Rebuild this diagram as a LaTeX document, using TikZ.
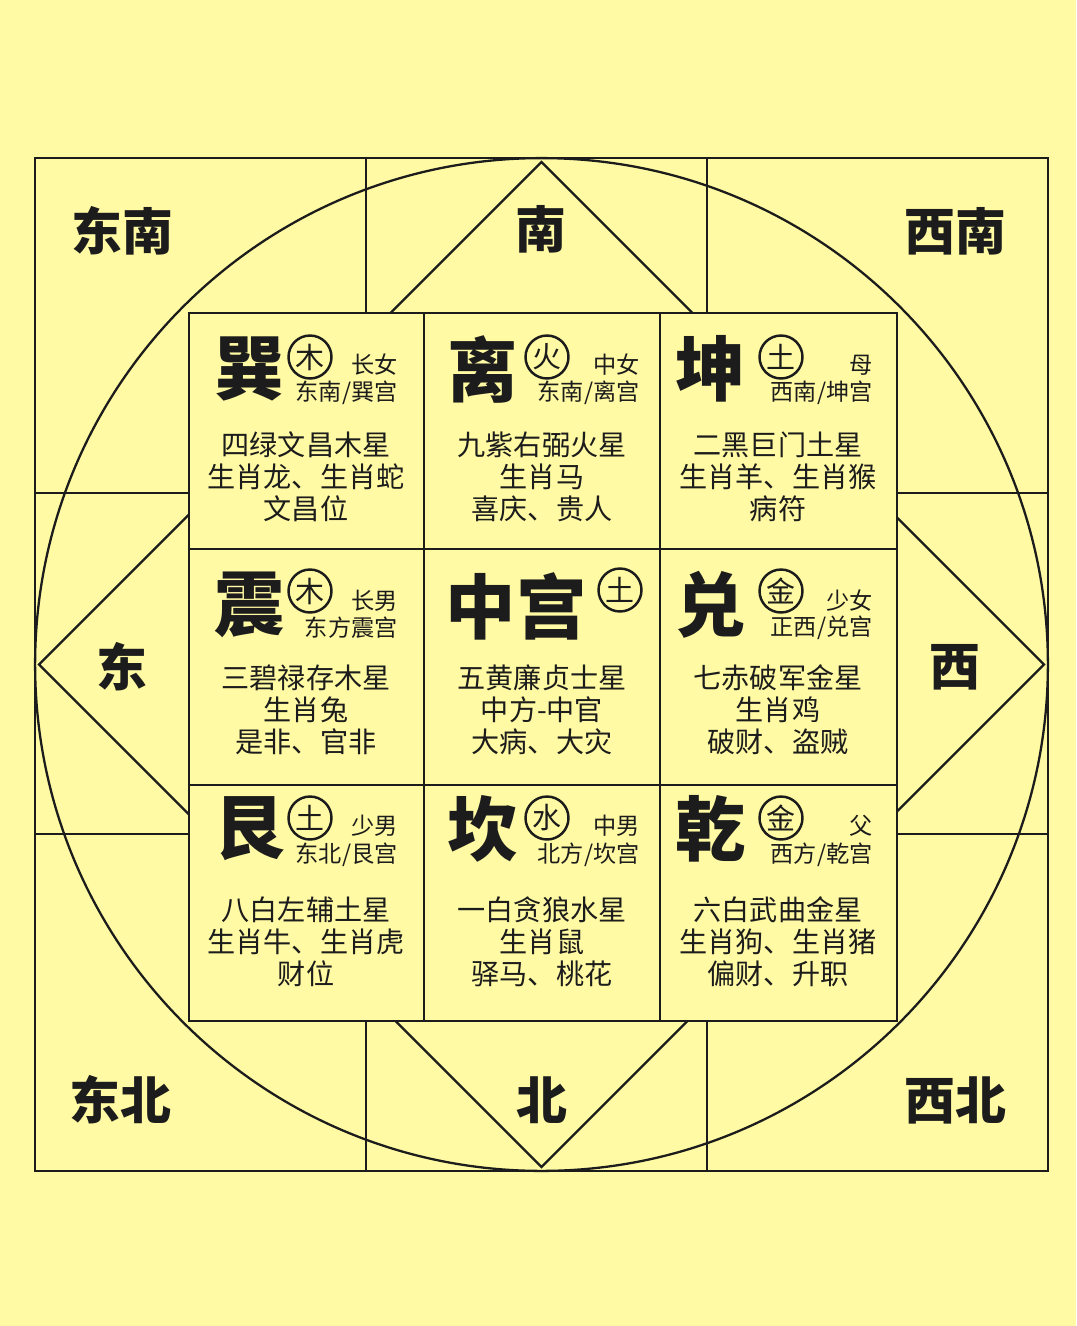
\documentclass[tikz,border=0pt]{standalone}
\usepackage{fontspec}
\usepackage{xcolor}
\usepackage{tikz}
\newfontfamily\cjk{Noto Sans CJK SC}
\definecolor{paper}{RGB}{255,250,163}
\definecolor{ink}{RGB}{28,28,28}

\begin{document}
\begin{tikzpicture}[
    x=0.02cm, y=-0.02cm,
    line/.style={draw=ink, line width=1.3pt},
    fangwei/.style={font=\cjk\bfseries\fontsize{29}{29}\selectfont, text=ink, inner sep=0pt},
    gua/.style={font=\cjk\bfseries\fontsize{40}{40}\selectfont, text=ink, inner sep=0pt},
    wuxing/.style={circle, draw=ink, line width=1.4pt, minimum size=0.86cm, inner sep=0pt, text=ink, font=\cjk\fontsize{16.5}{16.5}\selectfont},
    renwu/.style={anchor=east, inner sep=0pt, text=ink, font=\cjk\fontsize{13.2}{13.2}\selectfont},
    xingxiu/.style={align=center, inner sep=0pt, text=ink, font=\cjk\fontsize{16}{18.2}\selectfont}
]
    % Paper
    \fill[paper] (0,0) rectangle (1076,1326);
    \useasboundingbox (0,0) rectangle (1076,1326);

    % Outer frame, circle and diamond
    \coordinate (centre) at (541.5,664.5);
    \draw[line, line width=1.6pt] (35,158) rectangle (1048,1171);
    \draw[line] (366,158) -- (366,1171);
    \draw[line] (707,158) -- (707,1171);
    \draw[line] (35,493) -- (1048,493);
    \draw[line] (35,834) -- (1048,834);
    \draw[line] (centre) circle[radius=10.13cm];
    \coordinate (top) at (541.5,162);
    \coordinate (right) at (1044,664.5);
    \coordinate (bottom) at (541.5,1167);
    \coordinate (left) at (39,664.5);
    \draw[line] (top) -- (right) -- (bottom) -- (left) -- cycle;

    % Nine palaces
    \fill[paper] (189,313) rectangle (897,1021);
    \draw[line, line width=1.6pt] (189,313) rectangle (897,1021);
    \draw[line, line width=1.6pt] (424,313) -- (424,1021);
    \draw[line, line width=1.6pt] (660,313) -- (660,1021);
    \draw[line, line width=1.6pt] (189,549) -- (897,549);
    \draw[line, line width=1.6pt] (189,785) -- (897,785);

    % Directions
    \node[fangwei] (dongnan) at (122,231) {东南};
    \node[fangwei] (nan) at (541,229) {南};
    \node[fangwei] (xinan) at (955,231) {西南};
    \node[fangwei] (dong) at (122,667) {东};
    \node[fangwei] (xi) at (955,667) {西};
    \node[fangwei] (dongbei) at (120,1100) {东北};
    \node[fangwei] (bei) at (542,1100) {北};
    \node[fangwei] (xibei) at (955,1100) {西北};

    % Top row
    \node[gua] (xun) at (250,369) {巽};
    \node[wuxing] (xun-wx) at (310,357) {木};
    \node[renwu] (xun-ren) at (398,365) {长女};
    \node[renwu] (xun-gong) at (398,393) {东南/巽宫};
    \node[xingxiu] (xun-xing) at (306,477) {四绿文昌木星\\生肖龙、生肖蛇\\文昌位};

    \node[gua] (li) at (483,369) {离};
    \node[wuxing] (li-wx) at (547,357) {火};
    \node[renwu] (li-ren) at (640,365) {中女};
    \node[renwu] (li-gong) at (640,393) {东南/离宫};
    \node[xingxiu] (li-xing) at (542,477) {九紫右弼火星\\生肖马\\喜庆、贵人};

    \node[gua] (kun) at (711,369) {坤};
    \node[wuxing] (kun-wx) at (781,357) {土};
    \node[renwu] (kun-ren) at (873,365) {母};
    \node[renwu] (kun-gong) at (873,393) {西南/坤宫};
    \node[xingxiu] (kun-xing) at (778,477) {二黑巨门土星\\生肖羊、生肖猴\\病符};

    % Middle row
    \node[gua] (zhen) at (250,605) {震};
    \node[wuxing] (zhen-wx) at (310,591) {木};
    \node[renwu] (zhen-ren) at (398,601) {长男};
    \node[renwu] (zhen-gong) at (398,628) {东方震宫};
    \node[xingxiu] (zhen-xing) at (306,710) {三碧禄存木星\\生肖兔\\是非、官非};

    \node[gua] (zhong) at (516,606) {中宫};
    \node[wuxing] (zhong-wx) at (620,590) {土};
    \node[xingxiu] (zhong-xing) at (542,710) {五黄廉贞士星\\中方-中官\\大病、大灾};

    \node[gua] (dui) at (711,605) {兑};
    \node[wuxing] (dui-wx) at (781,591) {金};
    \node[renwu] (dui-ren) at (873,601) {少女};
    \node[renwu] (dui-gong) at (873,628) {正西/兑宫};
    \node[xingxiu] (dui-xing) at (778,710) {七赤破军金星\\生肖鸡\\破财、盗贼};

    % Bottom row
    \node[gua] (gen) at (250,829) {艮};
    \node[wuxing] (gen-wx) at (310,818) {土};
    \node[renwu] (gen-ren) at (398,826) {少男};
    \node[renwu] (gen-gong) at (398,855) {东北/艮宫};
    \node[xingxiu] (gen-xing) at (306,942) {八白左辅土星\\生肖牛、生肖虎\\财位};

    \node[gua] (kan) at (483,829) {坎};
    \node[wuxing] (kan-wx) at (547,818) {水};
    \node[renwu] (kan-ren) at (640,826) {中男};
    \node[renwu] (kan-gong) at (640,855) {北方/坎宫};
    \node[xingxiu] (kan-xing) at (542,942) {一白贪狼水星\\生肖鼠\\驿马、桃花};

    \node[gua] (qian) at (711,829) {乾};
    \node[wuxing] (qian-wx) at (781,818) {金};
    \node[renwu] (qian-ren) at (873,826) {父};
    \node[renwu] (qian-gong) at (873,855) {西方/乾宫};
    \node[xingxiu] (qian-xing) at (778,942) {六白武曲金星\\生肖狗、生肖猪\\偏财、升职};
\end{tikzpicture}
\end{document}
